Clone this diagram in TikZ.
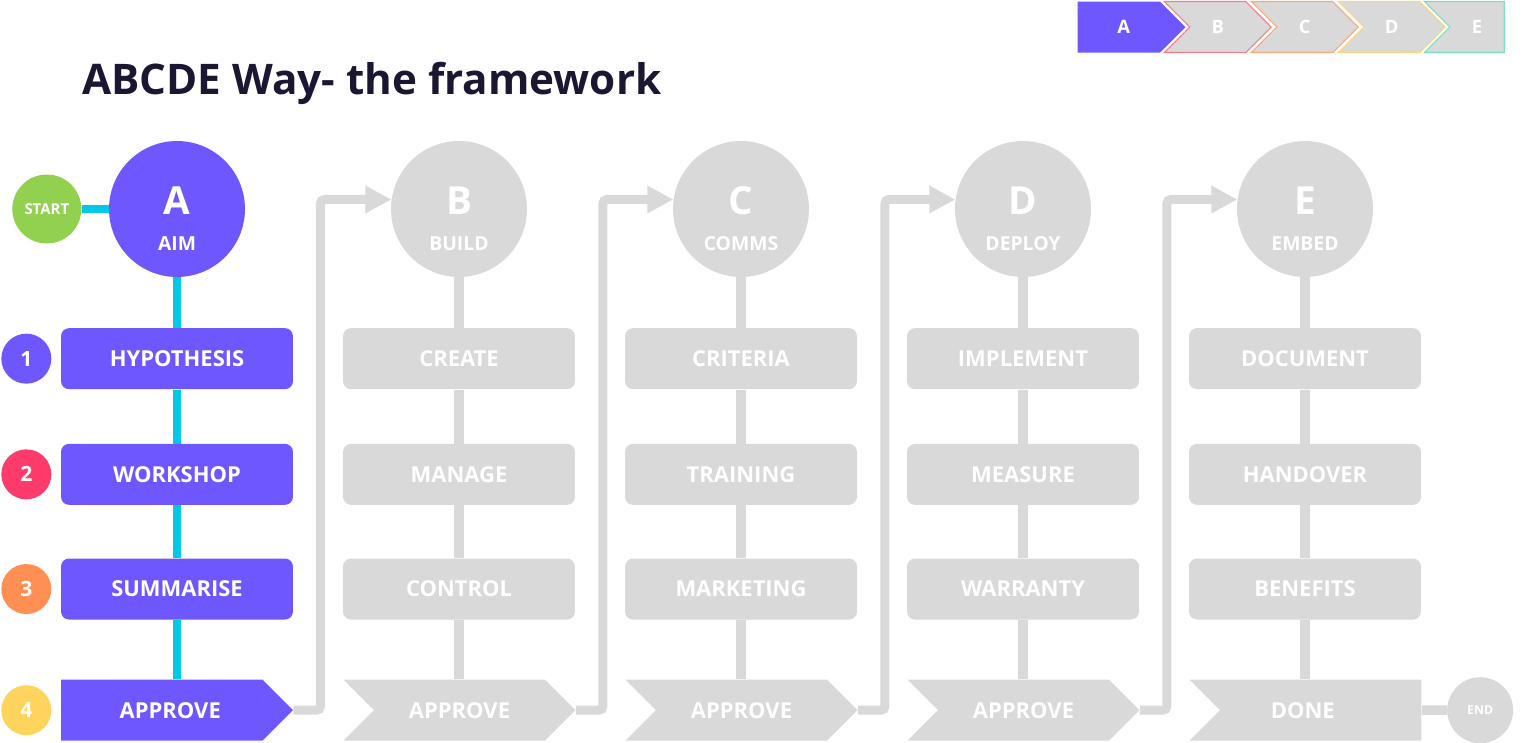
\documentclass[tikz,border=0pt]{standalone}
\usepackage{fontspec}
\setmainfont{Open Sans}
\usetikzlibrary{positioning,arrows.meta,shapes.symbols}

\definecolor{aimpurple}{HTML}{6F57FF}
\definecolor{idlegray}{HTML}{D9D9D9}
\definecolor{linkcyan}{HTML}{00C8E6}
\definecolor{titleink}{HTML}{1B1631}
\definecolor{startgreen}{HTML}{92D050}
\definecolor{numred}{HTML}{FF3B6B}
\definecolor{numorange}{HTML}{FF8F53}
\definecolor{numyellow}{HTML}{FFD45C}
\definecolor{edgeb}{HTML}{F07C8C}
\definecolor{edgec}{HTML}{F5A878}
\definecolor{edged}{HTML}{FCD67A}
\definecolor{edgee}{HTML}{74E3C3}

\begin{document}
\begin{tikzpicture}[x=0.02cm, y=-0.02cm,
  phase/.style={circle, minimum size=2.72cm, inner sep=0pt},
  letter/.style={text=white, inner sep=0pt, font=\bfseries\fontsize{22}{24}\selectfont},
  phasename/.style={text=white, inner sep=0pt, font=\bfseries\fontsize{11}{13}\selectfont},
  stepbox/.style={rounded corners=0.16cm, minimum width=4.64cm, minimum height=1.22cm,
    inner sep=0pt, text=white, font=\bfseries\fontsize{12.5}{14}\selectfont},
  gate/.style={signal, signal to=east, minimum width=4.64cm, minimum height=1.22cm,
    inner sep=0pt, text=white, font=\bfseries\fontsize{12.5}{14}\selectfont},
  greygate/.style={gate, signal from=west},
  donegate/.style={gate, signal from=west, signal to=nowhere},
  numdot/.style={circle, minimum size=1cm, inner sep=0pt, text=white,
    font=\bfseries\fontsize{12}{14}\selectfont},
  tab/.style={signal, signal to=east, signal from=west, minimum width=2.14cm,
    minimum height=1.02cm, inner sep=0pt, fill=idlegray, line width=0.6pt,
    anchor=north west, text=white, font=\bfseries\fontsize{10.5}{12}\selectfont},
  cyanlink/.style={line width=0.16cm, linkcyan},
  rail/.style={line width=0.19cm, idlegray},
  flow/.style={line width=0.18cm, idlegray, rounded corners=0.08cm,
    -{Triangle[length=0.52cm, width=0.52cm]}}
]
\useasboundingbox (0,0) rectangle (1536,743);

% title and phase tabs
\node[anchor=base west, inner sep=0pt, text=titleink,
  font=\bfseries\fontsize{24}{28}\selectfont] (title) at (82,95) {ABCDE Way- the framework};
\node[tab, signal from=nowhere, fill=aimpurple, minimum width=2.16cm] (tabA) at (1077,1) {\hspace{0.2cm}A};
\node[tab, draw=edgeb] (tabB) at (1163,1) {B};
\node[tab, draw=edgec] (tabC) at (1250,1) {C};
\node[tab, draw=edged] (tabD) at (1337,1) {D};
\node[tab, signal to=nowhere, draw=edgee, minimum width=1.6cm] (tabE) at (1423,1) {E};

% column A (active)
\node[phase, fill=aimpurple] (cA) at (177,209) {};
\node[letter] (lA) at (177,201) {A};
\node[phasename] (nA) at (177,244) {AIM};
\node[circle, fill=startgreen, minimum size=1.38cm, inner sep=0pt, text=white,
  font=\bfseries\fontsize{8.5}{10}\selectfont, left=0.54cm of cA] (start) {START};
\node[stepbox, fill=aimpurple, below=1.01cm of cA] (A1) {HYPOTHESIS};
\node[stepbox, fill=aimpurple, below=1.08cm of A1] (A2) {WORKSHOP};
\node[stepbox, fill=aimpurple, below=1.06cm of A2] (A3) {SUMMARISE};
\node[gate, fill=aimpurple, below=1.19cm of A3.south west, anchor=north west] (A4) {\hspace{0.34cm}APPROVE};
\node[numdot, fill=aimpurple, left=0.18cm of A1] (n1) {1};
\node[numdot, fill=numred, left=0.18cm of A2] (n2) {2};
\node[numdot, fill=numorange, left=0.18cm of A3] (n3) {3};
\node[numdot, fill=numyellow, left=0.18cm of A4.west] (n4) {4};
\draw[cyanlink] (start) -- (cA);
\draw[cyanlink] (cA) -- (A1) -- (A2) -- (A3) -- (A3 |- A4.north);

% columns B to E (still to come)
\foreach \c/\x/\nm/\sa/\sb/\sc/\sd/\gs in {
    B/459/BUILD/CREATE/MANAGE/CONTROL/APPROVE/greygate,
    C/741/COMMS/CRITERIA/TRAINING/MARKETING/APPROVE/greygate,
    D/1023/DEPLOY/IMPLEMENT/MEASURE/WARRANTY/APPROVE/greygate,
    E/1305/EMBED/DOCUMENT/HANDOVER/BENEFITS/{DONE\kern0.72cm}/donegate} {
  \node[phase, fill=idlegray] (c\c) at (\x,209) {};
  \node[letter] (l\c) at (\x,201) {\c};
  \node[phasename] (n\c) at (\x,244) {\nm};
  \node[stepbox, fill=idlegray, below=1.01cm of c\c] (\c1) {\sa};
  \node[stepbox, fill=idlegray, below=1.08cm of \c1] (\c2) {\sb};
  \node[stepbox, fill=idlegray, below=1.06cm of \c2] (\c3) {\sc};
  \node[\gs, fill=idlegray, below=1.19cm of \c3.south west, anchor=north west] (\c4) {\sd};
  \draw[rail] (c\c) -- (\c1) -- (\c2) -- (\c3) -- (\c3 |- \c4.north);
}
\node[circle, fill=idlegray, minimum size=1.32cm, inner sep=0pt, text=white,
  font=\bfseries\fontsize{7}{8}\selectfont, right=0.5cm of E4] (finish) {END};
\draw[rail] (E4) -- (finish);

% hand-over between phases
\foreach \p/\q in {A/B, B/C, C/D, D/E}
  \draw[flow] (\p4.east) -- ++(27,0) |- (c\q.172);
\end{tikzpicture}
\end{document}
